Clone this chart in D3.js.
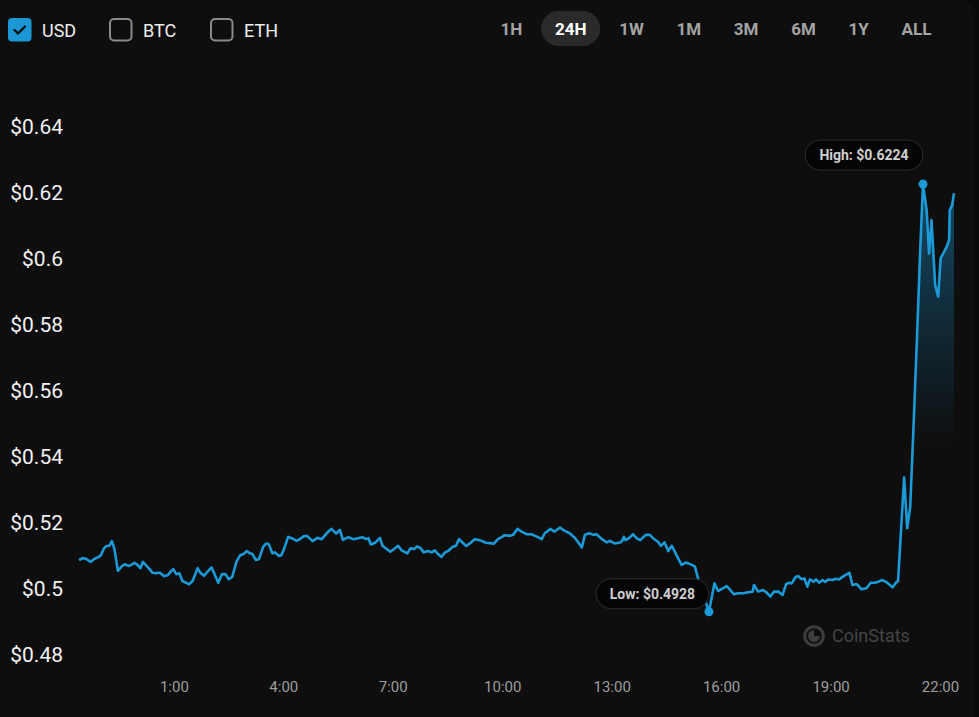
<!DOCTYPE html>
<html>
<head>
<meta charset="utf-8">
<script src="https://cdn.jsdelivr.net/npm/d3@7"></script>
<style>
  html, body { margin: 0; padding: 0; background: #0a0a0a; }
  svg { display: block; font-family: Roboto, "Noto Sans", sans-serif; }
</style>
</head>
<body>
<svg id="chart" width="979" height="717"></svg>
<script>
// ---------- data ----------
const currencies = ["USD", "BTC", "ETH"];
const checkedCurrency = "USD";
const ranges = ["1H", "24H", "1W", "1M", "3M", "6M", "1Y", "ALL"];
const activeRange = "24H";
const yTicks = [0.48, 0.50, 0.52, 0.54, 0.56, 0.58, 0.60, 0.62, 0.64];
const yTickLabels = ["$0.48", "$0.5", "$0.52", "$0.54", "$0.56", "$0.58", "$0.6", "$0.62", "$0.64"];
const xTickLabels = ["1:00", "4:00", "7:00", "10:00", "13:00", "16:00", "19:00", "22:00"];
const prices = [
  ["22:24",0.5085],["22:31",0.5091],["22:36",0.5088],["22:43",0.5079],["22:49",0.5088],["22:55",0.5093],
  ["23:00",0.5099],["23:05",0.5120],["23:09",0.5127],["23:14",0.5128],["23:18",0.5142],["23:22",0.5120],
  ["23:28",0.5052],["23:34",0.5065],["23:39",0.5072],["23:45",0.5067],["23:49",0.5069],["23:55",0.5076],
  ["23:59",0.5072],["00:05",0.5060],["00:09",0.5079],["00:15",0.5067],["00:20",0.5057],["00:25",0.5046],
  ["00:31",0.5045],["00:37",0.5046],["00:44",0.5036],["00:50",0.5039],["00:56",0.5052],["00:59",0.5057],
  ["01:04",0.5042],["01:09",0.5045],["01:14",0.5021],["01:20",0.5016],["01:25",0.5011],["01:31",0.5022],
  ["01:39",0.5060],["01:44",0.5045],["01:50",0.5037],["01:55",0.5049],["02:02",0.5062],["02:07",0.5042],
  ["02:13",0.5016],["02:19",0.5042],["02:25",0.5042],["02:30",0.5027],["02:36",0.5034],["02:43",0.5080],
  ["02:49",0.5099],["02:54",0.5102],["03:00",0.5112],["03:05",0.5105],["03:09",0.5103],["03:15",0.5085],
  ["03:20",0.5088],["03:27",0.5125],["03:32",0.5135],["03:36",0.5133],["03:42",0.5105],["03:46",0.5108],
  ["03:53",0.5097],["03:57",0.5100],["04:01",0.5117],["04:08",0.5155],["04:14",0.5151],["04:22",0.5143],
  ["04:27",0.5148],["04:34",0.5157],["04:39",0.5158],["04:48",0.5142],["04:56",0.5152],["05:03",0.5148],
  ["05:11",0.5165],["05:19",0.5179],["05:27",0.5165],["05:33",0.5176],["05:38",0.5146],["05:47",0.5154],
  ["05:55",0.5148],["06:03",0.5151],["06:10",0.5154],["06:16",0.5148],["06:20",0.5151],["06:24",0.5132],
  ["06:31",0.5137],["06:39",0.5152],["06:43",0.5128],["06:50",0.5118],["06:56",0.5110],["07:02",0.5118],
  ["07:09",0.5128],["07:14",0.5115],["07:24",0.5105],["07:29",0.5120],["07:35",0.5118],["07:40",0.5126],
  ["07:46",0.5120],["07:51",0.5108],["07:58",0.5112],["08:04",0.5108],["08:09",0.5114],["08:15",0.5102],
  ["08:20",0.5094],["08:26",0.5108],["08:31",0.5112],["08:38",0.5124],["08:44",0.5128],["08:49",0.5148],
  ["08:55",0.5137],["09:01",0.5127],["09:08",0.5137],["09:15",0.5148],["09:23",0.5145],["09:33",0.5137],
  ["09:40",0.5136],["09:46",0.5134],["09:53",0.5148],["09:59",0.5154],["10:04",0.5160],["10:13",0.5158],
  ["10:18",0.5161],["10:25",0.5179],["10:32",0.5171],["10:40",0.5163],["10:48",0.5163],["10:58",0.5155],
  ["11:05",0.5148],["11:10",0.5166],["11:19",0.5179],["11:26",0.5171],["11:35",0.5183],["11:42",0.5174],
  ["11:51",0.5166],["12:00",0.5151],["12:11",0.5123],["12:16",0.5161],["12:23",0.5166],["12:30",0.5161],
  ["12:35",0.5163],["12:44",0.5148],["12:52",0.5138],["12:57",0.5143],["13:05",0.5135],["13:14",0.5138],
  ["13:17",0.5142],["13:20",0.5155],["13:23",0.5145],["13:29",0.5152],["13:35",0.5163],["13:41",0.5151],
  ["13:47",0.5145],["13:56",0.5161],["14:03",0.5161],["14:08",0.5151],["14:16",0.5140],["14:21",0.5128],
  ["14:27",0.5138],["14:33",0.5112],["14:39",0.5128],["14:47",0.5098],["14:55",0.5070],["15:02",0.5077],
  ["15:12",0.5070],["15:17",0.5065],["15:22",0.5029],["15:40",0.4928],["15:49",0.5014],["15:55",0.4991],
  ["16:01",0.4997],["16:09",0.5006],["16:15",0.4994],["16:21",0.4981],["16:28",0.4984],["16:36",0.4984],
  ["16:45",0.4987],["16:52",0.4989],["16:54",0.5009],["17:01",0.4989],["17:09",0.4994],["17:15",0.4986],
  ["17:21",0.4974],["17:27",0.4989],["17:34",0.4989],["17:41",0.4979],["17:47",0.5012],["17:52",0.5016],
  ["17:56",0.5014],["18:03",0.5034],["18:07",0.5036],["18:12",0.5027],["18:17",0.5029],["18:22",0.5004],
  ["18:26",0.5026],["18:32",0.5019],["18:36",0.5026],["18:41",0.5016],["18:47",0.5024],["18:51",0.5018],
  ["18:56",0.5026],["19:03",0.5024],["19:09",0.5028],["19:14",0.5026],["19:24",0.5039],["19:31",0.5046],
  ["19:36",0.5009],["19:43",0.5012],["19:51",0.4996],["19:59",0.4999],["20:06",0.5016],["20:13",0.5016],
  ["20:19",0.5019],["20:24",0.5024],["20:31",0.5019],["20:42",0.5002],["20:48",0.5017],["20:51",0.5021],
  ["21:01",0.5335],["21:06",0.5181],["21:11",0.5246],["21:16",0.5469],["21:22",0.5752],["21:27",0.6004],
  ["21:32",0.6224],["21:38",0.6145],["21:42",0.6014],["21:46",0.6115],["21:52",0.5918],["21:57",0.5883],
  ["22:01",0.5999],["22:11",0.6034],["22:15",0.6055],["22:16",0.6145],["22:20",0.6161],["22:23",0.6196]
];

// ---------- parse times (with day rollover) ----------
let day = 0, prevMin = -1;
const data = prices.map(([t, v]) => {
  const [h, m] = t.split(":").map(Number);
  const mins = h * 60 + m;
  if (mins < prevMin) day += 1;
  prevMin = mins;
  return { date: new Date(2024, 0, 1 + day, h, m), value: v };
});
const tickDates = xTickLabels.map(s => {
  const [h, m] = s.split(":").map(Number);
  return new Date(2024, 0, 2, h, m);
});

// ---------- layout ----------
const W = 979, H = 717;
const plot = { left: 79, right: 954, top: 126, bottom: 654 };

const svg = d3.select("#chart");
svg.append("rect").attr("width", W).attr("height", H).attr("fill", "#0a0a0a");
svg.append("rect").attr("x", -20).attr("y", 0).attr("width", 993).attr("height", H + 30)
  .attr("rx", 12).attr("fill", "#0e0e0e");

const x = d3.scaleTime()
  .domain(d3.extent(data, d => d.date))
  .range([plot.left, plot.right]);
const y = d3.scaleLinear()
  .domain([yTicks[0], yTicks[yTicks.length - 1]])
  .range([plot.bottom, plot.top]);

// ---------- header: currency checkboxes ----------
const cur = svg.append("g").selectAll("g").data(currencies).join("g")
  .attr("transform", (d, i) => `translate(${8 + i * 101},18)`);
cur.append("rect")
  .attr("x", d => d === checkedCurrency ? 0 : 1)
  .attr("y", d => d === checkedCurrency ? 0 : 1)
  .attr("width", d => d === checkedCurrency ? 23.5 : 21.5)
  .attr("height", d => d === checkedCurrency ? 23.5 : 21.5)
  .attr("rx", 4)
  .attr("fill", d => d === checkedCurrency ? "#1b97d5" : "none")
  .attr("stroke", d => d === checkedCurrency ? "none" : "#8a8a8a")
  .attr("stroke-width", 2);
cur.filter(d => d === checkedCurrency).append("path")
  .attr("d", "M6.5,12 L10,15.5 L17,8.5")
  .attr("fill", "none").attr("stroke", "#0e0e0e").attr("stroke-width", 2.4)
  .attr("stroke-linecap", "round").attr("stroke-linejoin", "round");
cur.append("text")
  .attr("x", 34).attr("y", 18.5)
  .attr("fill", "#eeeeee").attr("font-size", 18)
  .text(d => d);

// ---------- header: range buttons (laid out by text width) ----------
const rg = svg.append("g");
const pill = rg.append("rect");
const rTexts = rg.selectAll("text").data(ranges).join("text")
  .attr("y", 35)
  .attr("text-anchor", "middle")
  .attr("font-size", 17).attr("font-weight", 700)
  .attr("fill", d => d === activeRange ? "#ffffff" : "#a3a3a3")
  .text(d => d);
const gap = 32.7;
let cursor = 500.5;
const centers = {};
rTexts.each(function (d) {
  const w = this.getComputedTextLength();
  centers[d] = cursor + w / 2;
  cursor += w + gap;
});
rTexts.attr("x", d => centers[d]);
pill.attr("x", centers[activeRange] - 29.5).attr("y", 11)
  .attr("width", 59).attr("height", 35).attr("rx", 17.5)
  .attr("fill", "#2a2a2a");

// ---------- y axis labels ----------
const yAxis = d3.axisLeft(y).tickValues(yTicks).tickSize(0).tickPadding(0)
  .tickFormat((d, i) => yTickLabels[i]);
const yg = svg.append("g").attr("transform", "translate(63,0)").call(yAxis);
yg.select(".domain").remove();
yg.selectAll("text")
  .attr("font-family", "Roboto, sans-serif")
  .attr("font-size", 21).attr("fill", "#f2f2f2").attr("dy", "0.34em");

// ---------- x axis labels ----------
const xAxis = d3.axisBottom(x).tickValues(tickDates).tickSize(0).tickPadding(0)
  .tickFormat((d, i) => xTickLabels[i]);
const xg = svg.append("g").attr("transform", "translate(0,687)").call(xAxis);
xg.select(".domain").remove();
xg.selectAll("text")
  .attr("font-family", "Roboto, sans-serif")
  .attr("font-size", 15).attr("fill", "#9c9c9c").attr("dy", "0.36em");

// ---------- watermark ----------
const wm = svg.append("g").attr("transform", "translate(814,636)");
wm.append("circle").attr("r", 9.3).attr("fill", "none").attr("stroke", "#3d3d3d").attr("stroke-width", 3);
wm.append("path")
  .attr("d", d3.arc().innerRadius(0).outerRadius(6)({ startAngle: Math.PI / 2, endAngle: 2 * Math.PI }))
  .attr("fill", "#3d3d3d");
wm.append("text").attr("x", 18).attr("y", 0).attr("dy", "0.36em")
  .attr("font-size", 18).attr("fill", "#444444").text("CoinStats");

// ---------- area + line ----------
const defs = svg.append("defs");
const grad = defs.append("linearGradient").attr("id", "areaGrad")
  .attr("gradientUnits", "userSpaceOnUse")
  .attr("x1", 0).attr("x2", 0).attr("y1", 190).attr("y2", 445);
grad.append("stop").attr("offset", 0).attr("stop-color", "#1b97d5").attr("stop-opacity", 0.42);
grad.append("stop").attr("offset", 1).attr("stop-color", "#1b97d5").attr("stop-opacity", 0);

svg.append("path").datum(data)
  .attr("fill", "url(#areaGrad)")
  .attr("d", d3.area().x(d => x(d.date)).y0(plot.bottom).y1(d => y(d.value)));

svg.append("path").datum(data)
  .attr("fill", "none").attr("stroke", "#1b9ad7").attr("stroke-width", 2.6)
  .attr("stroke-linejoin", "round")
  .attr("d", d3.line().x(d => x(d.date)).y(d => y(d.value)));

// ---------- high / low markers ----------
const hi = data.reduce((a, b) => b.value > a.value ? b : a);
const lo = data.reduce((a, b) => b.value < a.value ? b : a);
const marks = [
  { p: hi, label: `High: $${hi.value.toFixed(4)}`, w: 118, gap: 14 },
  { p: lo, label: `Low: $${lo.value.toFixed(4)}`, w: 113, gap: 3 }
];
marks.forEach(m => {
  const px = x(m.p.date), py = y(m.p.value);
  const g = svg.append("g");
  const bx = px - m.w, by = py - m.gap - 30;
  g.append("rect").attr("x", bx).attr("y", by).attr("width", m.w).attr("height", 30)
    .attr("rx", 15).attr("fill", "#050505").attr("stroke", "#2e2e2e").attr("stroke-width", 1);
  g.append("text").attr("x", bx + m.w / 2).attr("y", by + 15).attr("dy", "0.36em")
    .attr("text-anchor", "middle").attr("font-size", 14).attr("font-weight", 700)
    .attr("fill", "#cfcfcf").text(m.label);
  g.append("circle").attr("cx", px).attr("cy", py).attr("r", 4.5).attr("fill", "#1b9ad7");
});
</script>
</body>
</html>
